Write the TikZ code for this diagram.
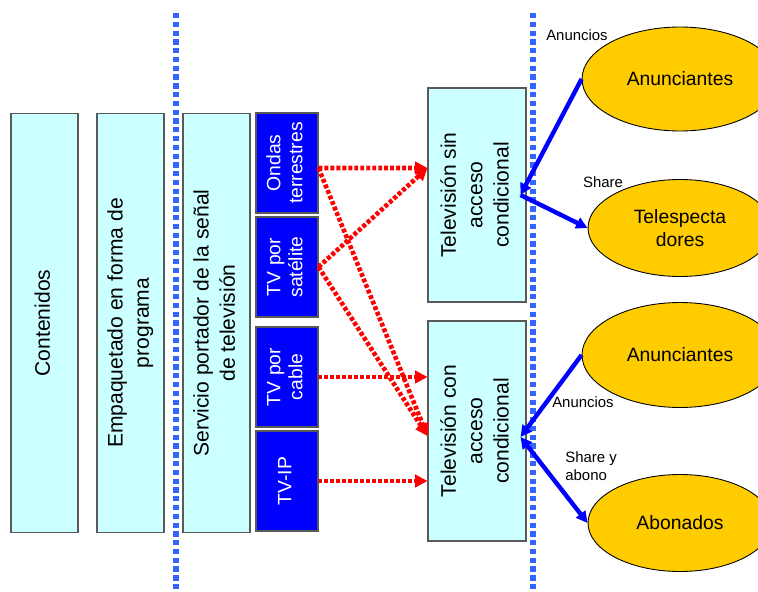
\documentclass[tikz,border=0pt]{standalone}
\usepackage{fontspec}
\setmainfont{Liberation Sans}
\usetikzlibrary{arrows.meta,shapes.geometric}
\definecolor{boxcyan}{RGB}{204,255,255}
\definecolor{sepblue}{RGB}{51,102,255}
\definecolor{goldfill}{RGB}{255,204,0}
\definecolor{arrblue}{RGB}{0,0,255}
\definecolor{medblue}{RGB}{0,0,255}
\newcommand{\vtext}[1]{\rotatebox{90}{\begin{tabular}{@{}c@{}}#1\end{tabular}}}
\begin{document}
\begin{tikzpicture}[x=0.02cm,y=-0.02cm,
  stagebox/.style={draw=black!65, line width=0.6pt, fill=boxcyan, inner sep=0pt,
    minimum width=1.34cm, minimum height=8.4cm, font={\fontsize{12}{15}\selectfont}},
  tvbox/.style={draw=black!65, line width=0.6pt, fill=boxcyan, inner sep=0pt,
    minimum width=1.96cm, font={\fontsize{12}{15}\selectfont}},
  mediabox/.style={draw=black!65, line width=0.6pt, fill=medblue, text=white, inner sep=0pt,
    minimum width=1.24cm, minimum height=2.0cm, font={\fontsize{11}{12.5}\selectfont}},
  actor/.style={ellipse, draw=black, line width=0.5pt, fill=goldfill, inner sep=0pt,
    align=center, font={\fontsize{11}{13}\selectfont}},
  lbl/.style={inner sep=0pt, align=left, font={\fontsize{8.5}{10.2}\selectfont}},
  sepline/.style={sepblue, line width=3pt, dash pattern=on 3pt off 2pt},
  redarrow/.style={red, line width=2.6pt, dash pattern=on 2.2pt off 1.2pt,
    -{Triangle[length=7pt,width=7pt]}},
  bluearrow/.style={arrblue, line width=2.5pt, -{Triangle[length=6.5pt,width=6.5pt]}}
]
\path[use as bounding box] (0,0) rectangle (758,592);
\clip (0,0) rectangle (758,592);

% separators
\coordinate (s1t) at (176,13);
\coordinate (s1b) at (176,592);
\coordinate (s2t) at (533,13);
\coordinate (s2b) at (533,592);
\draw[sepline] (s1t) -- (s1b);
\draw[sepline] (s2t) -- (s2b);

% value-chain stages
\node[stagebox] (cont) at (44.5,323) {\vtext{Contenidos}};
\node[stagebox] (emp) at (130.5,323) {\vtext{Empaquetado en forma de\\programa}};
\node[stagebox] (serv) at (216.5,323) {\vtext{Servicio portador de la señal\\de televisión}};

% delivery media
\node[mediabox] (ondas) at (287,163) {\vtext{Ondas\\terrestres}};
\node[mediabox] (sat) at (287,267) {\vtext{TV por\\satélite}};
\node[mediabox] (cable) at (287,377) {\vtext{TV por\\cable}};
\node[mediabox] (iptv) at (287,481) {\vtext{TV-IP}};

% TV types
\node[tvbox, minimum height=4.28cm] (sin) at (477,195) {\vtext{Televisión sin\\acceso\\condicional}};
\node[tvbox, minimum height=4.4cm] (con) at (477,431) {\vtext{Televisión con\\acceso\\condicional}};

% actors
\node[actor, minimum width=3.92cm, minimum height=2.08cm] (ann1) at (680,79) {Anunciantes};
\node[actor, minimum width=3.68cm, minimum height=1.94cm] (tele) at (680,228) {Telespecta\\dores};
\node[actor, minimum width=3.92cm, minimum height=2.1cm] (ann2) at (680,355) {Anunciantes};
\node[actor, minimum width=3.68cm, minimum height=1.94cm] (abo) at (680,523) {Abonados};

% red dotted arrows
\coordinate (ondasout) at ([yshift=-0.1cm]ondas.east);
\coordinate (sinin) at ([yshift=0.54cm]sin.west);
\coordinate (conin) at ([yshift=-0.1cm]con.west);
\draw[redarrow] (ondasout) -- (sinin);
\draw[redarrow] (sat.east) -- (sinin);
\draw[redarrow] (ondasout) -- (conin);
\draw[redarrow] (sat.east) -- (conin);
\draw[redarrow] (cable.east) -- (cable.east -| con.west);
\draw[redarrow] (iptv.east) -- (iptv.east -| con.west);

% blue arrows
\coordinate (j1) at ([xshift=-0.12cm]sin.east);
\coordinate (j2) at ([xshift=-0.12cm,yshift=-0.12cm]con.east);
\draw[bluearrow] (ann1.west) -- (j1);
\draw[bluearrow] (j1) -- (tele.west);
\draw[bluearrow] (ann2.west) -- (j2);
\draw[bluearrow, {Triangle[length=6.5pt,width=6.5pt]}-{Triangle[length=6.5pt,width=6.5pt]}] (j2) -- (abo.west);

% labels
\node[lbl] (l1) at (577,35) {Anuncios};
\node[lbl] (l2) at (603,182) {Share};
\node[lbl] (l3) at (583,402) {Anuncios};
\node[lbl, anchor=west] (l4) at (565,466) {Share y\\abono};
\end{tikzpicture}
\end{document}
